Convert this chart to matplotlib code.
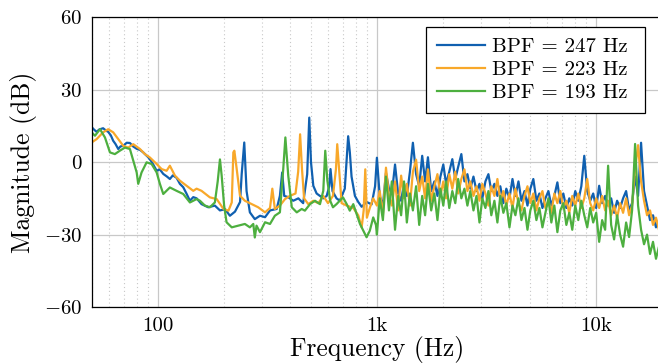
import matplotlib
matplotlib.use('Agg')
import matplotlib.pyplot as plt
from matplotlib.ticker import FixedLocator, NullFormatter

# spectra (Hz, dB)
freq_blue = [49.8, 51, 52.5, 54, 56.2, 58, 59.3, 61, 62.5, 64, 65.9, 67.5, 69.5, 72, 74.5, 77,
             80, 83, 85.7, 88, 90.3, 93, 95.2, 98.7, 102, 105.8, 110, 113.4, 117, 121.7, 126,
             130.5, 135, 140, 145, 150.2, 158.2, 169.8, 182, 192, 202.6, 213.2, 224.9, 237.2,
             241.3, 247.9, 254, 263, 277, 292.5, 308.5, 325, 348.6, 360.6, 369.4, 377.4, 393.7,
             415, 437.8, 460.5, 480.5, 491, 500, 512.3, 530.6, 549.6, 569, 589.9, 606, 614, 627,
             654, 677, 713.5, 739.2, 752.4, 766, 793.7, 822, 852, 897, 946, 981]
mag_blue = [14.5, 13.5, 12.5, 13.5, 14, 13, 12.5, 11, 8.8, 7.5, 5.4, 6.5, 6.7, 8, 7.9, 6.5,
            5.5, 5, 4, 3, 2, 0.5, -1, -3.6, -3, -4.9, -6, -7, -5.5, -6.5, -9,
            -10.4, -13, -16, -14.5, -15, -17.4, -18.7, -18, -20, -19.5, -22.2, -20.5, -16.5,
            -5, 8.1, -12, -20.8, -23.6, -22.2, -22.8, -20, -19.4, -14, -4.3, -14, -14.5,
            -16, -15, -17, -5, 18.4, 0, -9.8, -13, -14, -15, -14, -10, -2.9, -12,
            -15, -16, -11, 10.7, 4, -6, -14, -16.5, -18.5, -16.5, -17.5, -10]

freq_orange = [49.8, 52.5, 56.2, 59.3, 62.5, 65.9, 69.5, 73.2, 77.2, 82.8, 87.2, 91.9, 98.7,
               104, 109.6, 113.4, 119.6, 126, 135.2, 145, 150.2, 158.2, 172.7, 185.5, 199.3,
               210, 217.4, 221, 223.4, 229, 237, 249.5, 268, 287, 308.5, 325, 333, 342,
               360.6, 380.6, 400, 425, 437, 446, 455, 465, 486, 512, 540, 569, 598, 630,
               650, 659, 673, 690, 728, 780, 822, 852, 870, 885, 900, 928, 962]
mag_orange = [8.1, 9.5, 12.3, 13.6, 12.3, 9.5, 6.7, 6, 7.4, 5.4, 3.3, 1.9, -0.8,
              -2.9, -3.6, -1.5, -5.6, -7.7, -9.8, -11.9, -11, -11.9, -14.6, -15.3, -19.4,
              -20.1, -16.7, 4, 4.7, -2.9, -13.9, -16, -17.4, -18.7, -20.8, -19, -11, -19.4,
              -18, -15.3, -14, -13, -4, 11.5, -3, -15, -17.4, -16, -17, -14, -17, -14,
              -3, 7.4, -4, -17, -18, -19, -22, -27, -20, -3, -23, -19, -15]

freq_green = [49.8, 51.6, 54.4, 57.3, 60.4, 63.6, 67, 70.7, 74.5, 77.2, 80, 81.3, 84.2, 88.8,
              93.6, 98.7, 102.1, 105.8, 113.4, 121.7, 130.5, 140, 150.2, 155.6, 163.9, 172.7,
              182, 187.5, 192, 195.5, 200.6, 205.8, 217.4, 232.6, 249.5, 263, 272.6, 277, 282,
              292.5, 308.5, 325, 342, 360.6, 373.4, 382, 393.7, 408.6, 430.6, 453.5, 469, 495,
              521.5, 549.6, 569, 581, 594, 612, 630, 654, 677, 700, 728, 752, 780, 808, 837,
              867, 897, 928, 962, 990]
mag_green = [12.3, 10.9, 13.6, 10.2, 4, 3.3, 4.7, 6, 5.4, 0.5, -4.3, -9, -4.3, -0.1,
             -0.8, -4.3, -9, -13.2, -10.5, -11.9, -13.2, -16.7, -15.3, -16, -18, -18.7,
             -16.7, -8, 1.1, -5.6, -18, -24.9, -27, -26.3, -25.6, -27, -25.6, -31.2, -26.3,
             -29, -24.9, -25.6, -22.2, -20.8, -3, 10.2, -5.6, -18.7, -20.8, -19.4, -20.1, -17.4,
             -16, -17.4, -11.9, 4.7, -7.7, -16, -18.7, -17.4, -16, -14.6, -17.4, -20.1, -17.4, -21.5, -25.6,
             -28.4, -31.1, -28.4, -22.9, -26]

# broadband part above 1 kHz, shared frequency grid
freq_hf = [1000, 1030, 1065, 1100, 1135, 1170, 1210, 1250, 1290, 1330, 1370, 1415, 1460, 1510,
           1560, 1610, 1660, 1710, 1770, 1830, 1890, 1950, 2010, 2070, 2140, 2210, 2280, 2350,
           2430, 2510, 2590, 2670, 2760, 2850, 2940, 3030, 3130, 3230, 3330, 3440, 3550, 3660,
           3780, 3900, 4030, 4160, 4290, 4430, 4570, 4720, 4870, 5020, 5180, 5350, 5520, 5700,
           5880, 6070, 6260, 6460, 6670, 6880, 7100, 7330, 7560, 7800, 8050, 8310, 8580, 8850,
           9130, 9420, 9720, 10030, 10350, 10680, 11020, 11370, 11740, 12110, 12500, 12900,
           13310, 13740, 14180, 14630, 15100, 15580, 16080, 16590, 17120, 17670, 18230, 18810,
           19410, 20030]
mag_blue_hf = [1.8, -14, -18, -4.5, -11, -13, -1, -13, -16, -9, -14, -4, 8, -5,
               -10, 2.6, -8, 2, -12, -8, -14, -6, -1, -9, -4, 1.2, -7, -2,
               3.3, -8, -5, -11, -6, -12, -9, -15, -8, -5, -12, -9, -14, -10,
               -17, -11, -15, -7, -14, -8, -16, -12, -18, -11, -7, -16, -13, -19,
               -15, -12, -18, -14, -8.4, -17, -13, -19, -15, -18, -12, -16, -10, 2.6,
               -12, -16, -13, -19, -9.8, -17, -14, -18, -15, -21, -16, -19,
               -15, -12, -20, -17, -6, -14, 8, -12, -18, -24, -22, -27,
               -24, -28]
mag_orange_hf = [-18, -12, -22, -2.3, -14, -18, -8, -20, -5.6, -15, -9, -18, -4, 1,
                 -12, -6, -15, -3, -16, -10, -5, -14, -8, -15, -5, -11, -4, -13,
                 -7, -3, -12, -8, -14, -10, -16, -9, -13, -18, -10, -14, -7, -16,
                 -12, -18, -13, -19, -11, -17, -20, -14, -10, -17, -13, -20, -15, -12,
                 -19, -16, -21, -13, -17, -12, -19, -16, -21, -14, -18, -13, -19, -15,
                 -7, -17, -20, -15, -19, -14, -20, -16, -22, -18, -23, -17,
                 -21, -15, -22, -18, -3, 7, -8, -16, -22, -20, -26, -23,
                 -28, -25]
mag_green_hf = [-30, -15, -24, -6, -20, -8, -28, -14, -22, -8, -25, -13, -20, -10,
                -26, -14, -22, -9, -20, -13, -24, -11, -18, -8, -19, -12, -17, -7,
                -15, -11, -18, -12, -20, -14, -25, -15, -19, -12, -22, -16, -25, -14,
                -21, -17, -27, -18, -22, -15, -24, -19, -28, -20, -16, -24, -19, -27,
                -21, -15, -25, -18, -29, -20, -17, -26, -21, -28, -18, -24, -16, -22,
                -27, -19, -25, -21, -33, -24, -28, -1.5, -26, -32, -22, -30,
                -35, -25, -31, -20, 7.5, -18, -28, -34, -30, -38, -33, -40,
                -35, -39]

labels = ['BPF = 247 Hz ', 'BPF = 223 Hz ', 'BPF = 193 Hz ']
colors = ['#1060b0', '#f8a82a', '#4daf3f']

yticks = [-60, -30, 0, 30, 60]
ytick_labels = ['$-60$', '$-30$', '$0$', '$30$', '$60$']
xticks = [100, 1000, 10000]
xtick_labels = ['100', '1k', '10k']

plt.rcParams['font.family'] = 'cmr10'
plt.rcParams['mathtext.fontset'] = 'cm'
plt.rcParams['axes.unicode_minus'] = False

fig = plt.figure(figsize=(6.58, 3.63), dpi=100)
ax = fig.add_axes([0.1398, 0.154, 0.866, 0.799])

ax.plot(freq_blue + freq_hf, mag_blue + mag_blue_hf, color=colors[0], lw=1.6, label=labels[0])
ax.plot(freq_orange + freq_hf, mag_orange + mag_orange_hf, color=colors[1], lw=1.6, label=labels[1])
ax.plot(freq_green + freq_hf, mag_green + mag_green_hf, color=colors[2], lw=1.6, label=labels[2])

ax.set_xscale('log')
ax.set_xlim(50, 20000)
ax.set_ylim(-60, 60)

ax.xaxis.set_major_locator(FixedLocator(xticks))
ax.set_xticklabels(xtick_labels)
minor = [m * d for d in (10, 100, 1000, 10000) for m in range(2, 10)]
ax.xaxis.set_minor_locator(FixedLocator(minor))
ax.xaxis.set_minor_formatter(NullFormatter())
ax.set_yticks(yticks)
ax.set_yticklabels(ytick_labels)

ax.grid(True, which='major', color='#c8c8c8', lw=0.9)
ax.grid(True, which='minor', axis='x', color='#c8c8c8', lw=0.8, ls=(0, (1, 2.5)))
ax.set_axisbelow(True)
ax.tick_params(which='both', length=0, labelsize=15, pad=7)
for s in ax.spines.values():
    s.set_linewidth(0.9)

ax.set_xlabel('Frequency (Hz)', fontsize=18.3, labelpad=1)
ax.set_ylabel('Magnitude (dB)', fontsize=18.5, labelpad=5)

leg = ax.legend(loc='upper right', bbox_to_anchor=(0.970, 0.9655), borderaxespad=0,
                fontsize=15, fancybox=False, framealpha=1, edgecolor='black',
                handlelength=2.3, borderpad=0.5, labelspacing=0.22, handletextpad=0.34)
leg.get_frame().set_linewidth(0.9)

fig.savefig('out.png', dpi=100)
